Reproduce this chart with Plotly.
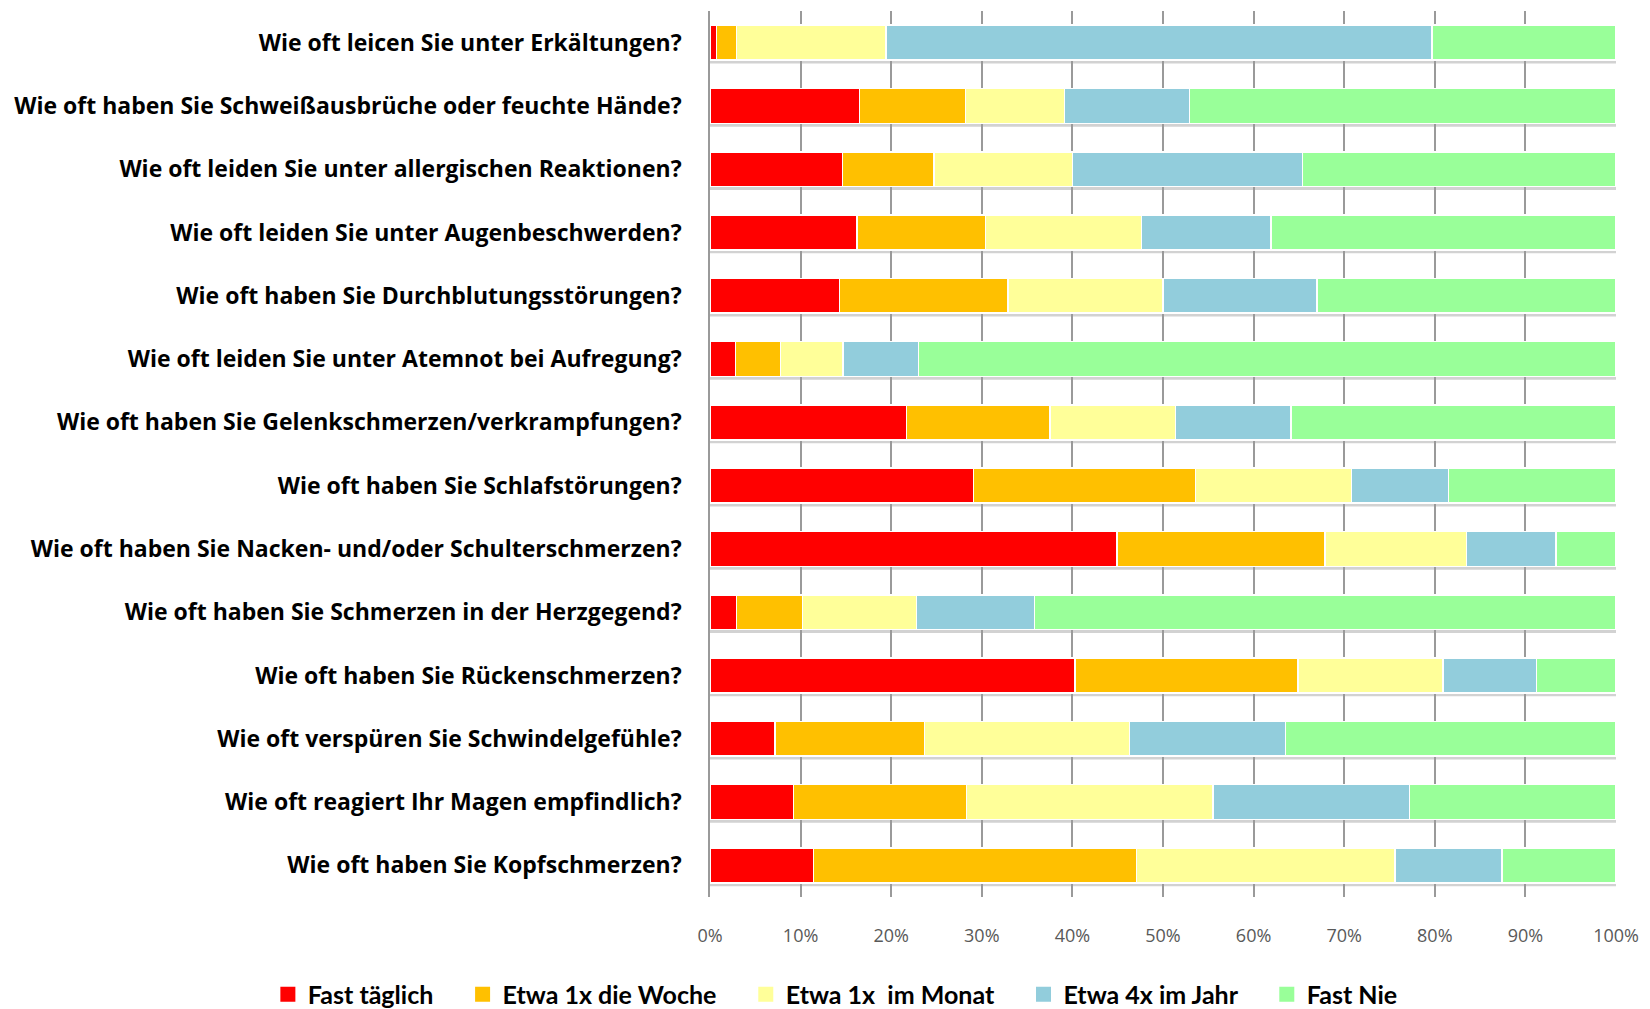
import plotly.graph_objects as go

# Survey questions, top to bottom
questions = [
    "Wie oft leicen Sie unter Erkältungen?",
    "Wie oft haben Sie Schweißausbrüche oder feuchte Hände?",
    "Wie oft leiden Sie unter allergischen Reaktionen?",
    "Wie oft leiden Sie unter Augenbeschwerden?",
    "Wie oft haben Sie Durchblutungsstörungen?",
    "Wie oft leiden Sie unter Atemnot bei Aufregung?",
    "Wie oft haben Sie Gelenkschmerzen/verkrampfungen?",
    "Wie oft haben Sie Schlafstörungen?",
    "Wie oft haben Sie Nacken- und/oder Schulterschmerzen?",
    "Wie oft haben Sie Schmerzen in der Herzgegend?",
    "Wie oft haben Sie Rückenschmerzen?",
    "Wie oft verspüren Sie Schwindelgefühle?",
    "Wie oft reagiert Ihr Magen empfindlich?",
    "Wie oft haben Sie Kopfschmerzen?",
]

# Answer shares in percent, one list per answer option
fast_taeglich = [0.7, 16.5, 14.6, 16.2, 14.3, 2.8, 21.7, 29.1, 44.9, 2.9, 40.3, 7.2, 9.2, 11.4]
etwa_woche = [2.2, 11.7, 10.1, 14.2, 18.6, 5.0, 15.8, 24.5, 23.0, 7.3, 24.6, 16.5, 19.1, 35.7]
etwa_monat = [16.5, 10.9, 15.3, 17.2, 17.1, 6.9, 13.9, 17.2, 15.6, 12.6, 16.0, 22.6, 27.2, 28.5]
etwa_jahr = [60.3, 13.8, 25.4, 14.3, 17.0, 8.3, 12.7, 10.7, 9.9, 13.0, 10.3, 17.2, 21.7, 11.8]
fast_nie = [20.3, 47.1, 34.6, 38.1, 33.0, 77.0, 35.9, 18.5, 6.6, 64.2, 8.8, 36.5, 22.8, 12.6]

series_names = ["Fast täglich", "Etwa 1x die Woche", "Etwa 1x  im Monat", "Etwa 4x im Jahr", "Fast Nie"]
series_values = [fast_taeglich, etwa_woche, etwa_monat, etwa_jahr, fast_nie]
series_colors = ["#FF0000", "#FFC000", "#FFFF99", "#92CDDC", "#99FF99"]

tick_values = list(range(0, 101, 10))
tick_labels = [f"{v}%" for v in tick_values]

# trailing padding widens the gap between legend entries
LEGEND_PAD = "\u00a0" * 4

fig = go.Figure()
for name, vals, col in zip(series_names, series_values, series_colors):
    fig.add_trace(go.Bar(
        y=questions,
        x=vals,
        name=name,
        orientation="h",
        legendgroup=name,
        showlegend=False,
        marker=dict(color=col, line=dict(color="white", width=1.5)),
    ))
    # legend key drawn as a larger square swatch
    fig.add_trace(go.Scatter(
        x=[None], y=[None],
        mode="markers",
        name=name.replace("  ", "\u00a0 ") + LEGEND_PAD,
        legendgroup=name,
        marker=dict(symbol="square", size=15, color=col),
        hoverinfo="skip",
    ))

# light grey ledge beneath every bar
bar_half = 0.275
for i, _ in enumerate(questions):
    fig.add_shape(type="line", xref="x", yref="y",
                  x0=0, x1=100, y0=i + bar_half + 0.03, y1=i + bar_half + 0.03,
                  line=dict(color="#d2d2d2", width=3), layer="below")

fig.update_layout(
    barmode="stack",
    bargap=0.45,
    width=1650,
    height=1009,
    margin=dict(l=710, r=34, t=11, b=112, autoexpand=False),
    paper_bgcolor="white",
    plot_bgcolor="white",
    font=dict(family="Open Sans", color="#000000"),
    legend=dict(
        orientation="h",
        xref="paper", yref="paper",
        x=-0.488, xanchor="left",
        y=-0.11, yanchor="middle",
        font=dict(family="Lato", size=25, color="#000000", weight="bold"),
        traceorder="normal",
        itemwidth=30,
    ),
    xaxis=dict(
        range=[0, 100],
        tickvals=tick_values,
        ticktext=tick_labels,
        showgrid=True,
        gridcolor="#9a9a9a",
        gridwidth=1.5,
        zeroline=False,
        showline=False,
        ticks="",
        ticklabelstandoff=26,
        tickfont=dict(family="Open Sans", size=18, color="#595959"),
        fixedrange=True,
    ),
    yaxis=dict(
        categoryorder="array",
        categoryarray=questions,
        autorange="reversed",
        showline=True,
        linecolor="#9a9a9a",
        linewidth=1.5,
        showgrid=False,
        ticks="",
        ticklabelstandoff=22,
        tickfont=dict(family="Open Sans", size=23, color="#000000", weight="bold"),
    ),
)

fig.write_html("out.html")
